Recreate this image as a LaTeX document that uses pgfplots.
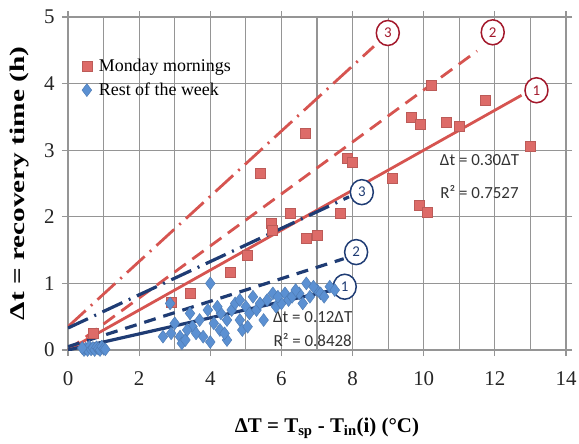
\documentclass[border=0pt]{standalone}
\usepackage{graphicx}
\usepackage{fontspec}
\setmainfont{Liberation Serif}
\newfontfamily\cali{Carlito}
\usepackage{pgfplots}
\pgfplotsset{compat=1.18}
\usetikzlibrary{shapes.geometric}
\definecolor{mred}{HTML}{DD6B68}
\definecolor{lred}{HTML}{D65450}
\definecolor{dred}{HTML}{A3182B}
\definecolor{mblue}{HTML}{5B90D2}
\definecolor{dblue}{HTML}{1F3C74}
\definecolor{gridgray}{HTML}{959595}

\begin{document}
\begin{tikzpicture}
\begin{axis}[
    at={(0,0)}, anchor=south west,
    scale only axis, width=498bp, height=333bp,
    xmin=0, xmax=14, ymin=0, ymax=5,
    xtick={0,2,...,14}, minor xtick={1,3,...,13}, ytick={0,1,...,5},
    grid=both,
    major grid style={gridgray, line width=1.1bp},
    minor grid style={gridgray, line width=1.1bp},
    axis line style={gridgray, line width=1.3bp},
    tick align=outside, major tick length=6bp, minor tick length=0pt,
    tick style={gridgray, line width=1.1bp},
    /pgf/number format/assume math mode=true,
    ticklabel style={font=\fontsize{21}{24}\selectfont, text=black!85},
    xticklabel style={anchor=north, yshift=-12bp},
    yticklabel style={anchor=east, xshift=-4bp},
    xlabel={\bfseries ΔT = T\textsubscript{sp} - T\textsubscript{in}(i) (°C)},
    ylabel={\scalebox{1.4}[1]{\bfseries Δt = recovery time (h)}},
    xlabel style={at={(axis description cs:0.52,-0.234)}, anchor=center,
        font=\fontsize{21}{24}\selectfont},
    ylabel style={at={(axis description cs:-0.0964,0.5)}, anchor=center,
        font=\fontsize{21}{24}\selectfont},
    legend style={at={(axis cs:0.3,4.43)}, anchor=north west, draw=none,
        fill=none, font=\fontsize{18}{20}\selectfont, row sep=6bp,
        /tikz/every odd column/.style={column sep=5bp}},
    legend cell align=left,
]
% Monday mornings
\addplot[only marks, mark=square*, mark size=5bp, mark options={fill=mred, draw=mred!85!black, line width=0.4bp}] coordinates {
    (0.7,0.25) (2.9,0.72) (3.43,0.85) (4.55,1.17) (5.03,1.43) (5.4,2.65)
    (5.7,1.9) (5.75,1.8) (6.24,2.05) (6.66,3.26) (6.71,1.68) (7.0,1.73)
    (7.64,2.05) (7.84,2.88) (8.0,2.82) (9.1,2.58) (9.66,3.5) (9.89,3.39)
    (9.86,2.18) (10.1,2.07) (10.22,3.98) (10.62,3.42) (11.01,3.36)
    (11.74,3.75) (13.0,3.06)
};
\addlegendentry{Monday mornings}
% Rest of the week
\addplot[only marks, mark=diamond*, mark size=6.5bp, mark options={fill=mblue, draw=mblue!85!black, line width=0.4bp}] coordinates {
    (0.45,0.0) (0.5,0.02) (0.55,0.0) (0.6,0.05) (0.65,0.01) (0.7,0.03)
    (0.75,0.0) (0.8,0.04) (0.85,0.02) (0.9,0.0) (0.95,0.05) (1.0,0.02)
    (1.05,0.01) (0.4,0.03)
    (2.67,0.2) (2.87,0.7) (2.9,0.25) (3.0,0.4) (3.15,0.2) (3.2,0.1)
    (3.3,0.15) (3.43,0.55) (3.5,0.35) (3.6,0.25) (3.8,0.2) (3.93,0.6)
    (4.0,1.0) (4.0,0.12) (4.1,0.4) (4.27,0.3) (4.3,0.55) (4.47,0.45)
    (4.47,0.15) (4.6,0.6) (4.7,0.7) (4.83,0.45) (4.9,0.3) (4.83,0.75)
    (5.0,0.65) (5.1,0.55) (5.2,0.8) (5.3,0.6) (5.4,0.7) (5.5,0.45)
    (5.6,0.75) (5.76,0.85) (5.85,0.65) (6.0,0.7) (6.1,0.85) (6.2,0.75)
    (6.3,0.8) (6.5,0.85) (6.6,0.7) (6.7,1.0) (6.8,0.8) (7.0,0.9)
    (7.1,0.85) (7.36,0.95) (7.5,0.9) (3.7,0.45) (4.2,0.65) (4.4,0.25)
    (5.05,0.35) (5.9,0.8) (6.4,0.9) (6.9,0.95) (7.2,0.8) (3.35,0.3)
};
\addlegendentry{Rest of the week}
% fitted / envelope lines
\addplot[lred, line width=2.8bp, forget plot] coordinates {(0,0) (12.75,3.825)};
\addplot[lred, line width=2.8bp, dash pattern=on 14bp off 8bp, forget plot] coordinates {(0,0) (11.5,4.49)};
\addplot[lred, line width=2.8bp, dash pattern=on 24bp off 7bp on 2bp off 7bp, forget plot] coordinates {(0,0.35) (8.6,4.56)};
\addplot[dblue, line width=3.2bp, forget plot] coordinates {(0,0) (7.45,0.9)};
\addplot[dblue, line width=3.2bp, dash pattern=on 12bp off 8bp, forget plot] coordinates {(0,0.05) (7.75,1.37)};
\addplot[dblue, line width=3.2bp, dash pattern=on 22bp off 7bp on 2bp off 7bp, forget plot] coordinates {(0,0.33) (7.9,2.3)};
% labels
\tikzset{numc/.style={ellipse, draw=#1, line width=1.5bp, fill=white, text=#1,
    minimum width=23bp, minimum height=25bp, inner sep=0pt,
    font=\cali\fontsize{15}{15}\selectfont}}
\node[numc=dred] at (axis cs:13.17,3.9) {1};
\node[numc=dred] at (axis cs:11.94,4.77) {2};
\node[numc=dred] at (axis cs:8.99,4.76) {3};
\node[numc=dblue] at (axis cs:7.78,0.95) {1};
\node[numc=dblue] at (axis cs:8.1,1.47) {2};
\node[numc=dblue] at (axis cs:8.26,2.37) {3};
\node[font=\cali\fontsize{17}{17}\selectfont, text=black!80] at (axis cs:11.57,2.85) {Δt = 0.30ΔT};
\node[font=\cali\fontsize{17}{17}\selectfont, text=black!80] at (axis cs:11.57,2.37) {R² = 0.7527};
\node[font=\cali\fontsize{17}{17}\selectfont, text=black!80] at (axis cs:6.88,0.5) {Δt = 0.12ΔT};
\node[font=\cali\fontsize{17}{17}\selectfont, text=black!80] at (axis cs:6.88,0.15) {R² = 0.8428};
\end{axis}
\pgfresetboundingbox
\path[use as bounding box] (-68bp,-94bp) rectangle (511bp,350bp);
\end{tikzpicture}
\end{document}
